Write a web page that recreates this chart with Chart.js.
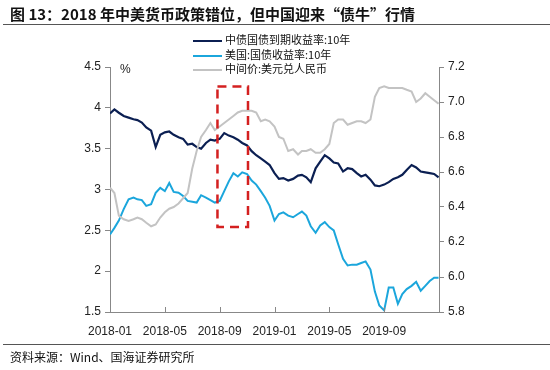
<!DOCTYPE html>
<html><head><meta charset="utf-8">
<script src="https://cdn.jsdelivr.net/npm/chart.js@4.4.1/dist/chart.umd.min.js"></script>
<style>
html,body{margin:0;padding:0;background:#fff;}
#wrap{position:relative;width:550px;height:370px;overflow:hidden;font-family:"Liberation Sans",Arial,sans-serif;}
#c{position:absolute;left:0;top:0;}
.title{position:absolute;left:10px;top:3px;font:bold 15px "Noto Sans CJK SC",sans-serif;color:#111;white-space:nowrap;}
.tline{position:absolute;left:3px;right:0;top:24px;height:0;border-top:1.5px solid #555;}
.fline{position:absolute;left:3px;right:0;top:344px;height:0;border-top:1px solid #555;}
.foot{position:absolute;left:10px;top:348px;font:12px "Noto Sans CJK SC",sans-serif;color:#111;white-space:nowrap;}
.lg{position:absolute;left:193px;font:11px "Noto Sans CJK SC",sans-serif;color:#111;white-space:nowrap;height:14px;line-height:14px;}
.lg i{display:inline-block;width:29px;height:0;vertical-align:middle;margin-right:3px;border-top:2px solid;}
</style></head>
<body><div id="wrap">
<canvas id="c" width="550" height="370"></canvas>
<div class="title">图 13：2018 年中美货币政策错位，但中国迎来“债牛”行情</div>
<div class="tline"></div>
<div id="legend"></div>
<div class="fline"></div>
<div class="foot">资料来源：Wind、国海证券研究所</div>
</div>
<script>
// ---- data ----
const dates = [
"2018-01-01","2018-01-11","2018-01-21","2018-02-01","2018-02-11","2018-02-21","2018-03-01","2018-03-11","2018-03-21",
"2018-04-01","2018-04-11","2018-04-21","2018-05-01","2018-05-11","2018-05-21","2018-06-01","2018-06-11","2018-06-21",
"2018-07-01","2018-07-11","2018-07-21","2018-08-01","2018-08-11","2018-08-21","2018-09-01","2018-09-11","2018-09-21",
"2018-10-01","2018-10-11","2018-10-21","2018-11-01","2018-11-11","2018-11-21","2018-12-01","2018-12-11","2018-12-21",
"2019-01-01","2019-01-11","2019-01-21","2019-02-01","2019-02-11","2019-02-21","2019-03-01","2019-03-11","2019-03-21",
"2019-04-01","2019-04-11","2019-04-21","2019-05-01","2019-05-11","2019-05-21","2019-06-01","2019-06-11","2019-06-21",
"2019-07-01","2019-07-11","2019-07-21","2019-08-01","2019-08-11","2019-08-21","2019-09-01","2019-09-11","2019-09-21",
"2019-10-01","2019-10-11","2019-10-21","2019-11-01","2019-11-11","2019-11-21","2019-12-01","2019-12-11","2019-12-21","2019-12-31"];
const cnYield = [3.93,3.98,3.94,3.90,3.88,3.86,3.85,3.82,3.76,3.72,3.52,3.67,3.70,3.71,3.67,3.64,3.62,3.55,
3.56,3.52,3.50,3.57,3.61,3.60,3.62,3.69,3.66,3.64,3.61,3.57,3.54,3.47,3.42,3.38,3.34,3.30,
3.20,3.13,3.14,3.11,3.13,3.17,3.18,3.15,3.09,3.26,3.34,3.42,3.38,3.33,3.32,3.22,3.26,3.25,
3.20,3.16,3.18,3.12,3.05,3.04,3.06,3.09,3.13,3.15,3.18,3.24,3.30,3.27,3.22,3.21,3.20,3.19,3.15];
const usYield = [2.45,2.53,2.62,2.76,2.88,2.90,2.88,2.87,2.80,2.82,2.96,3.02,2.98,3.08,2.97,2.96,2.92,2.86,
2.85,2.84,2.93,2.90,2.87,2.84,2.86,2.98,3.10,3.20,3.16,3.21,3.19,3.11,3.06,2.98,2.90,2.80,
2.62,2.70,2.72,2.68,2.66,2.70,2.73,2.68,2.55,2.47,2.56,2.60,2.54,2.50,2.33,2.15,2.07,2.08,
2.08,2.10,2.12,2.02,1.75,1.58,1.52,1.80,1.80,1.60,1.72,1.78,1.82,1.87,1.76,1.82,1.88,1.92,1.92];
const usdCny = [6.51,6.48,6.35,6.33,6.32,6.33,6.34,6.33,6.31,6.29,6.30,6.34,6.37,6.39,6.40,6.42,6.45,6.48,
6.62,6.72,6.80,6.84,6.88,6.84,6.86,6.88,6.90,6.92,6.94,6.95,6.95,6.95,6.94,6.89,6.90,6.89,
6.86,6.80,6.79,6.72,6.73,6.70,6.72,6.72,6.73,6.71,6.71,6.73,6.76,6.88,6.90,6.90,6.87,6.88,
6.89,6.89,6.88,6.90,7.03,7.08,7.09,7.08,7.08,7.08,7.08,7.07,7.06,7.00,7.02,7.05,7.03,7.01,6.99];
const xTickLabels = ["2018-01","2018-05","2018-09","2019-01","2019-05","2019-09"];
const seriesNames = ["中债国债到期收益率:10年","美国:国债收益率:10年","中间价:美元兑人民币"];
const seriesColors = ["#0b1f52","#1ba6dc","#c3c3c3"];
const highlightBox = {from:"2018-08-27", to:"2018-11-03", top:4.26, bottom:2.54};

// ---- helpers ----
function monthPos(s){
  const [y,m,d]=s.split("-").map(Number);
  const dim=new Date(y,m,0).getDate();
  return (y-2018)*12+(m-1)+(d-1)/dim;
}
const toXY = vals => dates.map((d,i)=>({x:monthPos(d),y:vals[i]}));

// legend
const lg=document.getElementById("legend");
const lgTops=[32,47,61];
seriesNames.forEach((n,i)=>{
  const d=document.createElement("div");d.className="lg";d.style.top=lgTops[i]+"px";
  d.innerHTML='<i style="border-color:'+seriesColors[i]+'"></i>'+n;lg.appendChild(d);
});

const tickFont={family:"'Liberation Sans', Arial, sans-serif",size:12};
const extras={
  id:"extras",
  afterDatasetsDraw(chart){
    const ctx=chart.ctx, xs=chart.scales.x, yl=chart.scales.y;
    // inward x ticks
    ctx.save();ctx.strokeStyle="#888";ctx.lineWidth=1;
    xTickLabels.forEach((t,i)=>{const px=Math.round(xs.getPixelForValue(i*4))+0.5;
      ctx.beginPath();ctx.moveTo(px,yl.bottom);ctx.lineTo(px,yl.bottom-5);ctx.stroke();});
    // highlight box
    const x1=xs.getPixelForValue(monthPos(highlightBox.from)),x2=xs.getPixelForValue(monthPos(highlightBox.to));
    const y1=yl.getPixelForValue(highlightBox.top),y2=yl.getPixelForValue(highlightBox.bottom);
    ctx.strokeStyle="#d42020";ctx.lineWidth=2.5;ctx.setLineDash([9,6]);
    ctx.strokeRect(x1,y1,x2-x1,y2-y1);ctx.setLineDash([]);
    // % unit
    ctx.fillStyle="#222";ctx.font="12px 'Liberation Sans', Arial";ctx.textBaseline="middle";
    ctx.fillText("%",yl.left+yl.width+10,yl.top+3);
    ctx.restore();
  }
};

new Chart(document.getElementById("c"),{
  type:"line",
  data:{datasets:[
    {label:seriesNames[2],data:toXY(usdCny),yAxisID:"y2",borderColor:seriesColors[2],borderWidth:2,pointRadius:0,tension:0},
    {label:seriesNames[1],data:toXY(usYield),yAxisID:"y",borderColor:seriesColors[1],borderWidth:2,pointRadius:0,tension:0},
    {label:seriesNames[0],data:toXY(cnYield),yAxisID:"y",borderColor:seriesColors[0],borderWidth:2.2,pointRadius:0,tension:0}
  ]},
  options:{
    responsive:false,animation:false,
    layout:{padding:{left:70,right:71,top:67,bottom:33}},
    plugins:{legend:{display:false},tooltip:{enabled:false}},
    scales:{
      x:{type:"linear",min:0,max:24,
        afterFit(s){s.height=25;},
        border:{display:true,color:"#888",width:1},
        grid:{display:false},
        ticks:{stepSize:4,maxRotation:0,color:"#222",font:tickFont,padding:4,
          callback:(v)=>{const i=v/4;return Number.isInteger(i)&&i<xTickLabels.length?xTickLabels[i]:"";}}},
      y:{position:"left",min:1.5,max:4.5,
        afterFit(s){s.width=40;},
        border:{display:true,color:"#888",width:1},
        grid:{drawOnChartArea:false,drawTicks:true,tickLength:5,color:"#888"},
        ticks:{stepSize:0.5,color:"#222",font:tickFont,padding:4,callback:v=>String(v)}},
      y2:{position:"right",min:5.8,max:7.2,
        afterFit(s){s.width=40;},
        border:{display:true,color:"#888",width:1},
        grid:{drawOnChartArea:false,drawTicks:true,tickLength:5,color:"#888"},
        ticks:{stepSize:0.2,color:"#222",font:tickFont,padding:4,callback:v=>v.toFixed(1)}}
    }
  },
  plugins:[extras]
});
</script>
</body></html>
